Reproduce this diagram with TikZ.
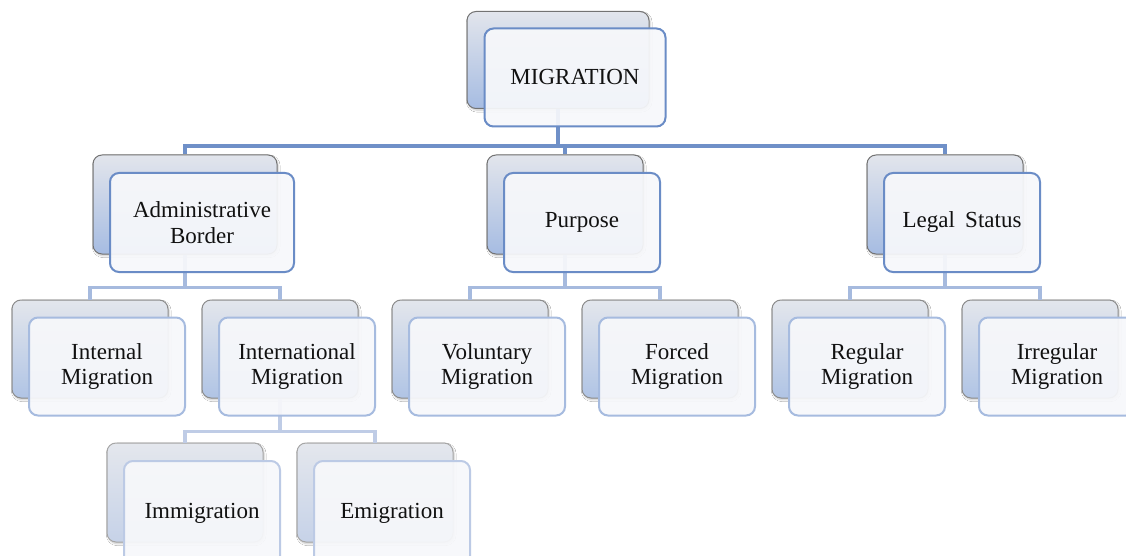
\documentclass[tikz,border=0pt]{standalone}
\usepackage{fontspec}
\setmainfont{Liberation Serif}
\usetikzlibrary{shadows.blur}
\definecolor{cA}{HTML}{6F90C8}
\definecolor{cB}{HTML}{A6BADE}
\definecolor{cC}{HTML}{BFCCE6}
\definecolor{fA}{HTML}{6A8CC6}
\definecolor{fB}{HTML}{A6BBDF}
\definecolor{fC}{HTML}{BCCAE5}
\definecolor{frontfill}{HTML}{F7F8FB}
\definecolor{txt}{HTML}{111111}
\tikzset{
  bbox/.style={rounded corners=9pt, inner sep=0pt, line width=1pt,
    blur shadow={shadow xshift=1.2pt, shadow yshift=-1.8pt, shadow blur steps=6, shadow opacity=22}},
  backA/.style={bbox, draw=black!55, top color={rgb,255:red,226;green,229;blue,236}, bottom color={rgb,255:red,166;green,188;blue,226}},
  backB/.style={bbox, draw=black!45, top color={rgb,255:red,227;green,230;blue,236}, bottom color={rgb,255:red,176;green,196;blue,229}},
  backC/.style={bbox, draw=black!35, top color={rgb,255:red,228;green,231;blue,237}, bottom color={rgb,255:red,198;green,210;blue,232}},
  fbox/.style={rounded corners=9pt, inner sep=0pt, line width=2pt, fill=frontfill, fill opacity=0.93, text opacity=1,
    align=center, text=txt, font=\fontsize{23}{25.5}\selectfont},
  frontA/.style={fbox, draw=fA},
  frontB/.style={fbox, draw=fB},
  frontC/.style={fbox, draw=fC},
  connA/.style={draw=cA, line width=4pt},
  connB/.style={draw=cB, line width=3.8pt},
  connC/.style={draw=cC, line width=3.5pt},
}
\begin{document}
\begin{tikzpicture}[x=1pt,y=-1pt]
\useasboundingbox[fill=white] (0,0) rectangle (1126,556);
% ---------- back boxes ----------
\node[backA, minimum width=182pt, minimum height=97pt] (mB) at (558,60) {};
\node[backA, minimum width=184pt, minimum height=99pt] (adB) at (185,204.5) {};
\node[backA, minimum width=156pt, minimum height=99pt] (puB) at (565,204.5) {};
\node[backA, minimum width=156pt, minimum height=99pt] (leB) at (945,204.5) {};
\node[backB, minimum width=156pt, minimum height=98pt] (inB) at (90,349) {};
\node[backB, minimum width=156pt, minimum height=98pt] (itB) at (280,349) {};
\node[backB, minimum width=156pt, minimum height=98pt] (voB) at (470,349) {};
\node[backB, minimum width=156pt, minimum height=98pt] (foB) at (660,349) {};
\node[backB, minimum width=156pt, minimum height=98pt] (reB) at (850,349) {};
\node[backB, minimum width=156pt, minimum height=98pt] (irB) at (1040,349) {};
\node[backC, minimum width=156pt, minimum height=99pt] (imB) at (185,492.5) {};
\node[backC, minimum width=156pt, minimum height=99pt] (emB) at (375,492.5) {};
% ---------- connectors ----------
\draw[connA] (mB.south) -- ++(0,37) -| (adB.north);
\draw[connA] (mB.south) -- ++(0,37) -| (puB.north);
\draw[connA] (mB.south) -- ++(0,37) -| (leB.north);
\draw[connB] (adB.south) -- ++(0,33) -| (inB.north);
\draw[connB] (adB.south) -- ++(0,33) -| (itB.north);
\draw[connB] (puB.south) -- ++(0,33) -| (voB.north);
\draw[connB] (puB.south) -- ++(0,33) -| (foB.north);
\draw[connB] (leB.south) -- ++(0,33) -| (reB.north);
\draw[connB] (leB.south) -- ++(0,33) -| (irB.north);
\draw[connC] (itB.south) -- ++(0,33) -| (imB.north);
\draw[connC] (itB.south) -- ++(0,33) -| (emB.north);
% ---------- front boxes ----------
\node[frontA, minimum width=181pt, minimum height=98pt] (m) at (575,77.5) {MIGRATION};
\node[frontA, minimum width=184pt, minimum height=99pt] (ad) at (202,222.5) {Administrative\\Border};
\node[frontA, minimum width=156pt, minimum height=99pt] (pu) at (582,222.5) {Purpose};
\node[frontA, minimum width=156pt, minimum height=99pt] (le) at (962,222.5) {Legal\hspace{0.45em}Status};
\node[frontB, minimum width=156pt, minimum height=98pt] (in) at (107,366.5) {Internal\\Migration};
\node[frontB, minimum width=156pt, minimum height=98pt] (it) at (297,366.5) {International\\Migration};
\node[frontB, minimum width=156pt, minimum height=98pt] (vo) at (487,366.5) {Voluntary\\Migration};
\node[frontB, minimum width=156pt, minimum height=98pt] (fo) at (677,366.5) {Forced\\Migration};
\node[frontB, minimum width=156pt, minimum height=98pt] (re) at (867,366.5) {Regular\\Migration};
\node[frontB, minimum width=156pt, minimum height=98pt] (ir) at (1057,366.5) {Irregular\\Migration};
\node[frontC, minimum width=156pt, minimum height=104pt] (im) at (202,513) {Immigration};
\node[frontC, minimum width=156pt, minimum height=104pt] (em) at (392,513) {Emigration};
\end{tikzpicture}
\end{document}
